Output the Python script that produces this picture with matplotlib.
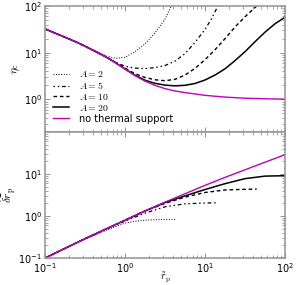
import matplotlib
matplotlib.use('Agg')
import matplotlib.pyplot as plt

plt.rcParams['mathtext.fontset'] = 'cm'
plt.rcParams['font.size'] = 7

# ---- top panel: eta_c against r_p ----
r_top = [0.1, 0.133, 0.178, 0.237, 0.316, 0.422, 0.562, 0.750, 1.0, 1.33,
         1.78, 2.37, 3.16, 4.22, 5.62, 10, 17.8, 31.6, 56.2, 100]
eta_none = [32.4, 26.3, 21.4, 17.4, 13.8, 10.7, 8.32, 6.17, 4.47, 3.24,
            2.45, 2.0, 1.70, 1.51, 1.40, 1.22, 1.12, 1.06, 1.03, 1.01]

r_eta20 = [0.1, 0.133, 0.178, 0.237, 0.316, 0.422, 0.562, 0.750, 1.0, 1.33,
           1.78, 2.37, 3.16, 4.22, 5.62, 7.50, 10, 13.3, 17.8, 23.7, 31.6,
           42.2, 56.2, 75.0, 100]
eta20 = [32.4, 26.3, 21.4, 17.4, 13.8, 10.7, 8.32, 6.17, 4.47, 3.31,
         2.57, 2.21, 2.02, 1.95, 2.0, 2.19, 2.6, 3.31, 4.52, 6.76, 10.5,
         17.2, 27.5, 41.7, 57.5]

r_eta10 = [0.1, 0.133, 0.178, 0.237, 0.316, 0.422, 0.562, 0.750, 1.0, 1.33,
           1.78, 2.37, 3.16, 4.22, 5.62, 7.50, 10, 13.3, 17.8, 23.7, 31.6, 44.3]
eta10 = [32.4, 26.3, 21.4, 17.4, 13.8, 10.7, 8.32, 6.3, 4.68, 3.55,
         2.95, 2.63, 2.51, 2.69, 3.31, 4.62, 7.08, 11.5, 20.0, 35.5, 58.9, 100]

r_eta5 = [0.1, 0.133, 0.178, 0.237, 0.316, 0.422, 0.562, 0.750, 1.0, 1.33,
          1.78, 2.37, 3.16, 4.22, 5.62, 7.50, 10, 12.0, 14.5]
eta5 = [32.4, 26.3, 21.4, 17.4, 13.8, 10.7, 8.5, 6.3, 5.13, 4.68,
        4.57, 4.79, 5.31, 6.61, 9.55, 16.6, 31.6, 52.5, 100]

r_eta2 = [0.1, 0.133, 0.178, 0.237, 0.316, 0.422, 0.562, 0.750, 1.0, 1.33,
          1.78, 2.37, 3.16, 3.80]
eta2 = [32.4, 26.3, 21.4, 17.4, 14.1, 11.0, 8.71, 7.59, 7.94, 10.5,
        15.5, 26.3, 52.5, 100]

# ---- bottom panel: delta r_p against r_p ----
r_bot = [0.1, 0.178, 0.316, 0.562, 1.0, 1.78, 3.16, 5.62, 10, 17.8, 31.6, 56.2, 100]
dr_none = [0.1, 0.17, 0.288, 0.479, 0.794, 1.32, 2.14, 3.39, 5.37, 8.32, 12.6, 19.1, 28.8]
dr20 = [0.1, 0.17, 0.288, 0.479, 0.794, 1.32, 2.09, 3.02, 4.27, 5.89, 7.76, 8.91, 9.12]

r_dr10 = [0.1, 0.178, 0.316, 0.562, 1.0, 1.78, 3.16, 5.62, 10, 17.8, 31.6, 44.3]
dr10 = [0.1, 0.17, 0.288, 0.479, 0.794, 1.32, 2.0, 2.82, 3.63, 4.17, 4.32, 4.37]

r_dr5 = [0.1, 0.178, 0.316, 0.562, 1.0, 1.78, 3.16, 5.62, 10, 14.5]
dr5 = [0.1, 0.17, 0.288, 0.468, 0.759, 1.17, 1.66, 1.95, 2.04, 2.07]

r_dr2 = [0.1, 0.178, 0.316, 0.562, 0.750, 1.0, 1.33, 1.78, 2.37, 3.16, 4.3]
dr2 = [0.1, 0.17, 0.282, 0.447, 0.55, 0.676, 0.75, 0.794, 0.817, 0.828, 0.832]

labels = ['$A = 2$', '$A = 5$', '$A = 10$', '$A = 20$', 'no thermal support']

fig = plt.figure(figsize=(2.99, 2.85), dpi=100)
ax1 = fig.add_axes([0.1505, 0.5368, 0.8027, 0.4421])
ax2 = fig.add_axes([0.1505, 0.0947, 0.8027, 0.4421], sharex=ax1)

ax1.plot(r_eta2, eta2, color='k', ls=':', lw=0.7, label=labels[0])
ax1.plot(r_eta5, eta5, color='k', lw=0.9, dashes=(1.2, 2.2, 1.2, 2.2, 3, 2.2), label=labels[1])
ax1.plot(r_eta10, eta10, color='k', lw=1.0, dashes=(2.6, 2.0), label=labels[2])
ax1.plot(r_eta20, eta20, color='k', lw=1.1, label=labels[3])
ax1.plot(r_top, eta_none, color='m', lw=1.0, label=labels[4])

ax2.plot(r_dr2, dr2, color='k', ls=':', lw=0.7)
ax2.plot(r_dr5, dr5, color='k', lw=0.9, dashes=(1.2, 2.2, 1.2, 2.2, 3, 2.2))
ax2.plot(r_dr10, dr10, color='k', lw=1.0, dashes=(2.6, 2.0))
ax2.plot(r_bot, dr20, color='k', lw=1.1)
ax2.plot(r_bot, dr_none, color='m', lw=1.0)

for ax in (ax1, ax2):
    ax.set_xscale('log')
    ax.set_yscale('log')
    ax.set_xlim(0.1, 100)
    ax.tick_params(which='both', direction='in', top=True, right=True,
                   color='0.5', labelsize=7, pad=2)
    ax.tick_params(which='major', length=3.5, width=0.6)
    ax.tick_params(which='minor', length=2, width=0.5)
    for s in ax.spines.values():
        s.set_color('0.6')
        s.set_linewidth(1.2)

ax1.set_ylim(0.2, 100)
ax2.set_ylim(0.1, 100)
ax2.set_yticks([0.1, 1, 10])
ax1.tick_params(labelbottom=False)

ax1.set_ylabel(r'$\eta_{\rm c}$', fontsize=8, labelpad=1)
ax2.set_ylabel(r'$\widetilde{\delta r}_{\rm p}$', fontsize=8, labelpad=0)
ax2.set_xlabel(r'$\tilde{r}_{\rm p}$', fontsize=7.5, labelpad=-3)

ax1.legend(loc='lower left', bbox_to_anchor=(0.035, 0.065), frameon=False,
           fontsize=7, handlelength=1.6, handletextpad=1.0,
           labelspacing=0.1, borderpad=0, borderaxespad=0)

fig.savefig('out.png', dpi=100)
